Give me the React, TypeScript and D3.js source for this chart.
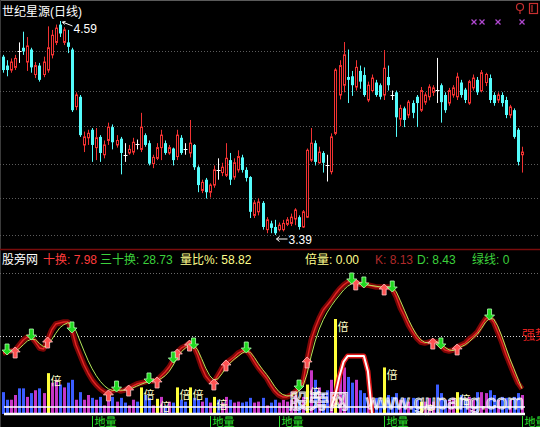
import React from 'react';
import * as d3 from 'd3';

// ---- price data (daily) ----
const stockName = '世纪星源(日线)';

const openP = [
  4.39, 4.34, 4.315, 4.33, 4.42, 4.44, 4.36, 4.43, 4.29, 4.34,
  4.29, 4.315, 4.40, 4.47, 4.57, 4.47, 4.47, 4.43, 4.11, 4.165,
  3.895, 3.935, 3.98, 3.88, 3.94, 3.84, 3.92, 3.995, 3.895, 3.93,
  3.84, 3.85, 3.855, 3.90, 3.87, 3.95, 3.905, 3.79, 3.82, 3.88,
  3.905, 3.85, 3.875, 3.83, 3.935, 3.87, 3.85, 3.895, 3.77, 3.64,
  3.70, 3.63, 3.67, 3.755, 3.74, 3.725, 3.81, 3.715, 3.755, 3.825,
  3.755, 3.715, 3.50, 3.52, 3.57, 3.42, 3.455, 3.435, 3.42, 3.42,
  3.45, 3.455, 3.48, 3.49, 3.435, 3.49, 3.81, 3.905, 3.795, 3.85,
  3.78, 3.745, 3.96, 4.175, 4.23, 4.276, 4.28, 4.22, 4.31, 4.287,
  4.147, 4.20, 4.245, 4.23, 4.175, 4.276, 4.175, 4.19, 4.04, 4.10,
  4.063, 4.13, 4.165, 4.09, 4.135, 4.165, 4.19, 4.205, 4.23, 4.175,
  4.13, 4.175, 4.165, 4.245, 4.205, 4.13, 4.215, 4.26, 4.20, 4.245,
  4.27, 4.175, 4.147, 4.175, 4.147, 4.063, 4.09, 3.98, 3.84,
];
const highP = [
  4.40, 4.37, 4.38, 4.40, 4.47, 4.53, 4.50, 4.44, 4.36, 4.355,
  4.39, 4.56, 4.54, 4.57, 4.59, 4.555, 4.54, 4.44, 4.19, 4.175,
  3.97, 3.98, 3.99, 3.99, 3.95, 3.92, 4.02, 4.01, 3.95, 3.94,
  3.905, 3.895, 3.935, 3.925, 4.075, 3.96, 3.92, 3.84, 3.905, 3.98,
  3.92, 3.895, 3.88, 3.98, 3.95, 3.905, 4.035, 3.90, 3.78, 3.70,
  3.71, 3.68, 3.78, 3.82, 3.795, 3.905, 3.85, 3.82, 3.865, 3.84,
  3.77, 3.72, 3.585, 3.595, 3.58, 3.49, 3.47, 3.475, 3.46, 3.475,
  3.49, 3.51, 3.54, 3.50, 3.53, 3.875, 3.99, 3.92, 3.885, 3.86,
  3.84, 3.96, 4.325, 4.37, 4.472, 4.43, 4.31, 4.37, 4.34, 4.33,
  4.25, 4.29, 4.26, 4.24, 4.427, 4.34, 4.20, 4.20, 4.12, 4.11,
  4.147, 4.145, 4.175, 4.22, 4.19, 4.235, 4.23, 4.383, 4.24, 4.19,
  4.215, 4.23, 4.30, 4.26, 4.215, 4.26, 4.29, 4.276, 4.315, 4.30,
  4.29, 4.19, 4.19, 4.19, 4.165, 4.12, 4.10, 3.99, 3.885,
];
const lowP = [
  4.30, 4.28, 4.30, 4.315, 4.355, 4.40, 4.31, 4.30, 4.27, 4.25,
  4.275, 4.30, 4.38, 4.455, 4.50, 4.455, 4.41, 4.08, 4.09, 3.94,
  3.855, 3.895, 3.80, 3.81, 3.80, 3.82, 3.895, 3.87, 3.88, 3.73,
  3.80, 3.84, 3.84, 3.87, 3.855, 3.885, 3.78, 3.765, 3.81, 3.81,
  3.84, 3.84, 3.78, 3.81, 3.84, 3.84, 3.825, 3.755, 3.63, 3.625,
  3.595, 3.60, 3.655, 3.70, 3.72, 3.715, 3.67, 3.70, 3.74, 3.74,
  3.69, 3.485, 3.485, 3.50, 3.42, 3.40, 3.40, 3.39, 3.41, 3.41,
  3.44, 3.44, 3.445, 3.42, 3.43, 3.485, 3.80, 3.78, 3.79, 3.74,
  3.69, 3.73, 3.95, 4.15, 4.19, 4.13, 4.17, 4.20, 4.21, 4.165,
  4.135, 4.19, 4.165, 4.15, 4.147, 4.20, 4.147, 3.94, 4.00, 3.995,
  4.045, 4.045, 3.995, 4.08, 4.12, 4.145, 4.17, 4.13, 4.02, 4.075,
  4.115, 4.16, 4.147, 4.16, 4.13, 4.12, 4.20, 4.175, 4.19, 4.225,
  4.13, 4.115, 4.13, 4.11, 4.045, 4.045, 3.93, 3.78, 3.74,
];
const closeP = [
  4.315, 4.315, 4.36, 4.38, 4.42, 4.42, 4.45, 4.33, 4.34, 4.26,
  4.36, 4.44, 4.51, 4.55, 4.52, 4.54, 4.445, 4.09, 4.175, 3.95,
  3.94, 3.96, 3.895, 3.935, 3.85, 3.895, 3.995, 3.91, 3.92, 3.85,
  3.84, 3.87, 3.91, 3.90, 3.995, 3.895, 3.79, 3.825, 3.88, 3.95,
  3.85, 3.88, 3.81, 3.95, 3.85, 3.87, 3.905, 3.77, 3.67, 3.685,
  3.63, 3.67, 3.755, 3.755, 3.77, 3.82, 3.70, 3.795, 3.83, 3.755,
  3.71, 3.52, 3.57, 3.575, 3.435, 3.475, 3.43, 3.40, 3.445, 3.455,
  3.475, 3.49, 3.53, 3.435, 3.52, 3.865, 3.905, 3.80, 3.855, 3.795,
  3.78, 3.94, 4.315, 4.34, 4.40, 4.26, 4.23, 4.33, 4.25, 4.175,
  4.23, 4.27, 4.175, 4.165, 4.325, 4.23, 4.175, 4.05, 4.10, 4.035,
  4.135, 4.075, 4.13, 4.20, 4.175, 4.22, 4.215, 4.205, 4.135, 4.09,
  4.20, 4.215, 4.276, 4.175, 4.147, 4.25, 4.27, 4.19, 4.30, 4.29,
  4.147, 4.13, 4.175, 4.13, 4.063, 4.108, 3.94, 3.80, 3.855,
];
const priceGrid = [4.42, 4.2, 4.0, 3.79, 3.6, 3.39];

// ---- turnover / volume panel ----
const volume = [
  23, 15, 15, 20, 27, 27, 18, 22, 25, 27,
  22, 43, 33, 36, 31, 28, 33, 36, 15, 23,
  15, 20, 17, 15, 18, 9, 20, 18, 13, 17,
  12, 9, 15, 13, 28, 20, 17, 9, 16, 18,
  9, 13, 12, 28, 15, 13, 28, 17, 15, 13,
  17, 12, 18, 15, 12, 18, 15, 12, 13, 12,
  13, 17, 12, 13, 17, 9, 12, 15, 12, 15,
  13, 15, 20, 15, 18, 31, 46, 36, 28, 22,
  25, 36, 100, 41, 49, 39, 33, 36, 25, 22,
  18, 15, 17, 15, 49, 20, 18, 22, 15, 17,
  13, 17, 15, 13, 13, 17, 13, 31, 22, 15,
  15, 17, 23, 20, 15, 18, 15, 23, 23, 22,
  25, 20, 15, 18, 17, 15, 18, 22, 20,
];
const doubleVolIdx = [11, 34, 38, 43, 46, 52, 75, 82, 94, 103, 112];
const groundVolIdx = [22, 51, 68, 94, 128];
const volBaseLevel = 7.4;
const surgeIdx = [81, 82, 83, 84, 85, 86, 87, 88, 89, 90, 91];
const surgeVal = [7.4, 21, 40, 55, 61, 61, 61, 61, 61, 45, 1];

const kLine = [
  36.5, 37.3, 38.1, 38.9, 42.9, 46.8, 49.2, 49.2, 45.2, 40.5,
  39.7, 46.8, 54.8, 59.5, 60.3, 61.1, 61.1, 54.8, 42.9, 34.9,
  27.0, 20.6, 15.1, 11.1, 7.9, 5.6, 4.8, 6.3, 7.9, 6.3,
  7.1, 8.7, 10.3, 11.9, 12.7, 13.5, 14.3, 14.3, 15.1, 18.3,
  21.4, 25.4, 31.0, 37.3, 40.5, 42.1, 44.4, 42.1, 34.9, 25.4,
  18.3, 14.3, 13.5, 19.0, 24.6, 28.6, 31.0, 33.3, 36.5, 38.1,
  38.9, 34.9, 29.4, 24.6, 20.6, 16.7, 11.1, 6.3, 3.2, 1.6,
  1.6, 3.2, 5.6, 8.7, 13.5, 31.0, 46.8, 56.3, 64.3, 70.6,
  74.6, 78.6, 83.3, 87.3, 90.5, 92.9, 93.7, 92.9, 91.3, 90.5,
  90.5, 89.7, 88.9, 88.9, 88.9, 88.9, 87.3, 81.0, 72.2, 65.9,
  58.7, 53.2, 48.4, 45.2, 44.4, 45.2, 46.0, 45.2, 42.1, 38.9,
  38.1, 38.9, 41.3, 42.9, 44.4, 47.6, 50.0, 53.2, 58.7, 63.5,
  65.1, 61.1, 53.2, 45.2, 35.7, 27.8, 19.8, 12.7, 8.13,
];
const dLine = [
  38, 37.5, 37.5, 38, 40, 43, 46, 47.5, 47, 44,
  41.5, 42, 47, 52, 56.5, 59, 60.5, 59.5, 54, 46,
  38, 30.5, 24, 18.5, 14, 10.5, 8, 6.8, 7, 7,
  7, 7.6, 8.8, 10.2, 11.6, 12.8, 13.8, 14.2, 14.6, 16.2,
  18.5, 22, 27, 33, 37.5, 40.5, 43, 43, 39, 32,
  24.5, 18.5, 15, 16, 20, 25, 28.5, 31.5, 34, 36.5,
  38, 37, 33, 28, 23.5, 19.5, 15, 10, 6, 3.5,
  2.5, 2.5, 4, 6.5, 10.5, 20, 34, 46, 55.5, 63,
  69, 74, 78.5, 82.5, 86.5, 89.5, 91.5, 92.5, 92.5, 91.5,
  90.5, 90, 89.5, 89, 89, 89, 88.5, 85, 78, 70.5,
  63, 56.5, 51, 47, 45, 44.5, 45, 45.5, 44, 41,
  39, 38.5, 39.5, 41.5, 43, 45.5, 48.5, 51.5, 56, 61,
  64, 63.5, 58, 50, 41, 32, 24, 16, 8.43,
];
const upCrossIdx = [3, 11, 26, 31, 38, 43, 46, 52, 55, 75, 87, 94, 106, 112];
const downCrossIdx = [1, 7, 17, 28, 36, 42, 47, 60, 73, 86, 89, 96, 108, 120];
const oscGrid = [100, 50];

const headerNames = ['十换', '三十换', '量比%', '倍量', 'K', 'D', '绿线'];
const headerValues = [
  '7.98', '28.73', '58.82', '0.00',
  kLine[kLine.length - 1].toFixed(2), dLine[dLine.length - 1].toFixed(2), '0',
];

const W = 540;
const H = 427;
const RED = '#f23232';
const CYAN = '#54fcfc';
const FONT = "'Liberation Sans', 'Noto Sans CJK SC', sans-serif";

function upArrow(cx: number, cy: number) {
  return `M${cx},${cy - 6} L${cx + 5},${cy - 1} L${cx + 2},${cy - 1} L${cx + 2},${cy + 5} L${cx - 2},${cy + 5} L${cx - 2},${cy - 1} L${cx - 5},${cy - 1} Z`;
}
function downArrow(cx: number, cy: number) {
  return `M${cx},${cy + 6} L${cx + 5},${cy + 1} L${cx + 2},${cy + 1} L${cx + 2},${cy - 5} L${cx - 2},${cy - 5} L${cx - 2},${cy + 1} L${cx - 5},${cy + 1} Z`;
}

export default function App() {
  const N = openP.length;
  const x = d3.scaleLinear().domain([0, N - 1]).range([3, 522]);
  const px = (i: number) => Math.round(x(i)) + 0.5;
  const yP = d3.scaleLinear().domain([3.39, 4.59]).range([235, 21]);
  const yK = d3.scaleLinear().domain([0, 100]).range([399, 273]);
  const yV = d3.scaleLinear().domain([0, 100]).range([414, 319]);

  const hiIdx = d3.maxIndex(highP);
  const loIdx = d3.minIndex(lowP);

  const oscLine = d3.line<number>().x((_, i) => x(i)).y((v) => yK(v));
  const surgeLine = d3.line<number>().x((_, j) => x(surgeIdx[j])).y((v) => yV(v));
  const dblSet = new Set(doubleVolIdx);

  const headerX = [43, 100, 180, 305, 375, 417, 472];
  const headerColor = ['#ff3c3c', '#3cd23c', '#ffff8c', '#ffff8c', '#b02a2a', '#3cd23c', '#3cd23c'];

  const hx = px(hiIdx);
  const hy = yP(highP[hiIdx]);
  const lx = px(loIdx);
  const ly = yP(lowP[loIdx]);

  return (
    <svg
      width={W}
      height={H}
      style={{ position: 'absolute', left: 0, top: 0, display: 'block', background: '#000' }}
      fontFamily={FONT}
    >
      <rect x={0} y={0} width={W} height={H} fill="#000" />
      {/* frame */}
      <line x1={0} x2={W} y1={0.5} y2={0.5} stroke="#5a5a5a" />
      <line x1={0.5} x2={0.5} y1={0} y2={H} stroke="#3a3a3a" />
      <line x1={0} x2={W} y1={249.5} y2={249.5} stroke="#7a0c0c" strokeWidth={1.5} />

      {/* price grid */}
      {priceGrid.map((p, k) => (
        <line key={k} x1={0} x2={W} y1={Math.round(yP(p)) + 0.5} y2={Math.round(yP(p)) + 0.5}
          stroke="#5c5c5c" strokeDasharray="1 2" />
      ))}

      {/* candlesticks */}
      {openP.map((o, i) => {
        const c = closeP[i];
        const cx = px(i);
        const yh = yP(highP[i]);
        const yl = yP(lowP[i]);
        if (c > o) {
          const top = yP(c);
          const bot = yP(o);
          return (
            <g key={i} stroke={RED} strokeWidth={1}>
              <line x1={cx} x2={cx} y1={yh} y2={top} />
              <line x1={cx} x2={cx} y1={bot} y2={yl} />
              <rect x={cx - 1} y={top} width={2} height={Math.max(bot - top, 1)} fill="#000" />
            </g>
          );
        }
        if (c < o) {
          const top = yP(o);
          const bot = yP(c);
          return (
            <g key={i}>
              <line x1={cx} x2={cx} y1={yh} y2={yl} stroke={CYAN} />
              <rect x={cx - 1.5} y={top} width={3} height={Math.max(bot - top, 1)} fill={CYAN} />
            </g>
          );
        }
        return (
          <g key={i} stroke="#ffffff">
            <line x1={cx} x2={cx} y1={yh} y2={yl} />
            <line x1={cx - 2} x2={cx + 2} y1={Math.round(yP(o)) + 0.5} y2={Math.round(yP(o)) + 0.5} />
          </g>
        );
      })}

      {/* high / low markers */}
      <g stroke="#ffffff" fill="none" strokeWidth={1}>
        <line x1={hx + 2} y1={hy + 1} x2={hx + 12} y2={hy + 5} />
        <path d={`M${hx + 5},${hy + 0.5} L${hx + 2},${hy + 1} L${hx + 4},${hy + 3.5}`} />
        <line x1={lx + 1} y1={ly + 4} x2={lx + 12} y2={ly + 4} />
        <path d={`M${lx + 4},${ly + 1.5} L${lx + 1},${ly + 4} L${lx + 4},${ly + 6.5}`} />
      </g>
      <text x={hx + 13} y={hy + 12} fill="#ffffff" fontSize={12}>{highP[hiIdx].toFixed(2)}</text>
      <text x={lx + 13} y={ly + 9} fill="#ffffff" fontSize={12}>{lowP[loIdx].toFixed(2)}</text>

      {/* title */}
      <text x={2} y={15.5} fill="#ffffff" fontSize={12}>{stockName}</text>

      {/* top-right markers */}
      {[474, 482, 498, 522].map((cx, k) => (
        <g key={k} stroke="#b048d0" strokeWidth={1.2}>
          <line x1={cx - 2.5} x2={cx + 2.5} y1={19.5} y2={24.5} />
          <line x1={cx - 2.5} x2={cx + 2.5} y1={24.5} y2={19.5} />
        </g>
      ))}
      <g stroke="#c83030" fill="none" strokeWidth={1.2}>
        <circle cx={520} cy={7} r={3.5} />
        <line x1={520} x2={520} y1={10.5} y2={14} />
        <rect x={529.5} y={3.5} width={8} height={10} />
        <line x1={532} x2={532} y1={5} y2={12} />
      </g>

      {/* oscillator header */}
      <text x={2} y={264} fill="#ffffff" fontSize={12}>股旁网</text>
      {headerNames.map((name, k) => (
        <text key={k} x={headerX[k]} y={264} fill={headerColor[k]} fontSize={12}>
          {`${name}: ${headerValues[k]}`}
        </text>
      ))}

      {/* oscillator grid */}
      {oscGrid.map((v, k) => (
        <line key={k} x1={0} x2={W} y1={Math.round(yK(v)) + 0.5} y2={Math.round(yK(v)) + 0.5}
          stroke={k === 0 ? '#6a6a6a' : '#d8d8d8'} strokeDasharray="1 2" />
      ))}

      {/* volume bars */}
      {volume.map((v, i) => {
        const cx = px(i);
        const dbl = dblSet.has(i);
        const col = dbl ? '#ffff3a' : closeP[i] > openP[i] ? '#c636c6' : '#3a5cff';
        return (
          <rect key={i} x={cx - 1.5} y={yV(v)} width={3} height={yV(0) - yV(v)} fill={col} />
        );
      })}
      {doubleVolIdx.map((i) => (
        <text key={i} x={px(i) + 2} y={yV(volume[i]) + 12} fill="#ffffc8" fontSize={11}>倍</text>
      ))}

      {/* volume base lines */}
      <line x1={4} x2={525} y1={yV(volBaseLevel)} y2={yV(volBaseLevel)} stroke="#ffffff" strokeWidth={1.5} />
      <line x1={4} x2={525} y1={414} y2={414} stroke="#ffffff" strokeWidth={2.5} />

      {/* surge line */}
      <path d={surgeLine(surgeVal) || ''} fill="none" stroke="#e01818" strokeWidth={5} strokeLinejoin="round" />
      <path d={surgeLine(surgeVal) || ''} fill="none" stroke="#ffffff" strokeWidth={2} strokeLinejoin="round" />

      {/* K / D lines */}
      <path d={oscLine(kLine) || ''} fill="none" stroke="#7c0606" strokeWidth={5.5} strokeLinejoin="round" />
      <path d={oscLine(kLine) || ''} fill="none" stroke="#e42424" strokeWidth={1.4} strokeLinejoin="round" />
      <path d={oscLine(dLine) || ''} fill="none" stroke="#b4e65a" strokeWidth={1} strokeLinejoin="round" />

      {/* cross signals */}
      {upCrossIdx.map((i) => (
        <path key={`u${i}`} d={upArrow(x(i), yK(kLine[i]) + 3)} fill="#ff5252" stroke="#ffc4c4" strokeWidth={0.8} />
      ))}
      {downCrossIdx.map((i) => (
        <path key={`d${i}`} d={downArrow(x(i), yK(kLine[i]) - 3)} fill="#1ed81e" stroke="#b4ffb4" strokeWidth={0.8} />
      ))}

      <text x={522} y={339} fill="#e02020" fontSize={13}>强势</text>

      {/* ground volume flags */}
      {groundVolIdx.map((i) => (
        <g key={`g${i}`}>
          <line x1={px(i)} x2={px(i)} y1={416} y2={427} stroke="#2ee02e" strokeWidth={1} />
          <text x={px(i) + 2} y={426} fill="#2ee02e" fontSize={11}>地量</text>
        </g>
      ))}

      {/* site mark */}
      <text x={289} y={409} fontSize={20} fill="rgba(255,255,255,0.35)" stroke="rgba(255,255,255,0.85)" strokeWidth={0.9}>股旁网</text>
      <text x={366} y={409} fontSize={20} fill="rgba(255,255,255,0.35)" stroke="rgba(255,255,255,0.85)" strokeWidth={0.9}>www.gupang.com</text>
    </svg>
  );
}
